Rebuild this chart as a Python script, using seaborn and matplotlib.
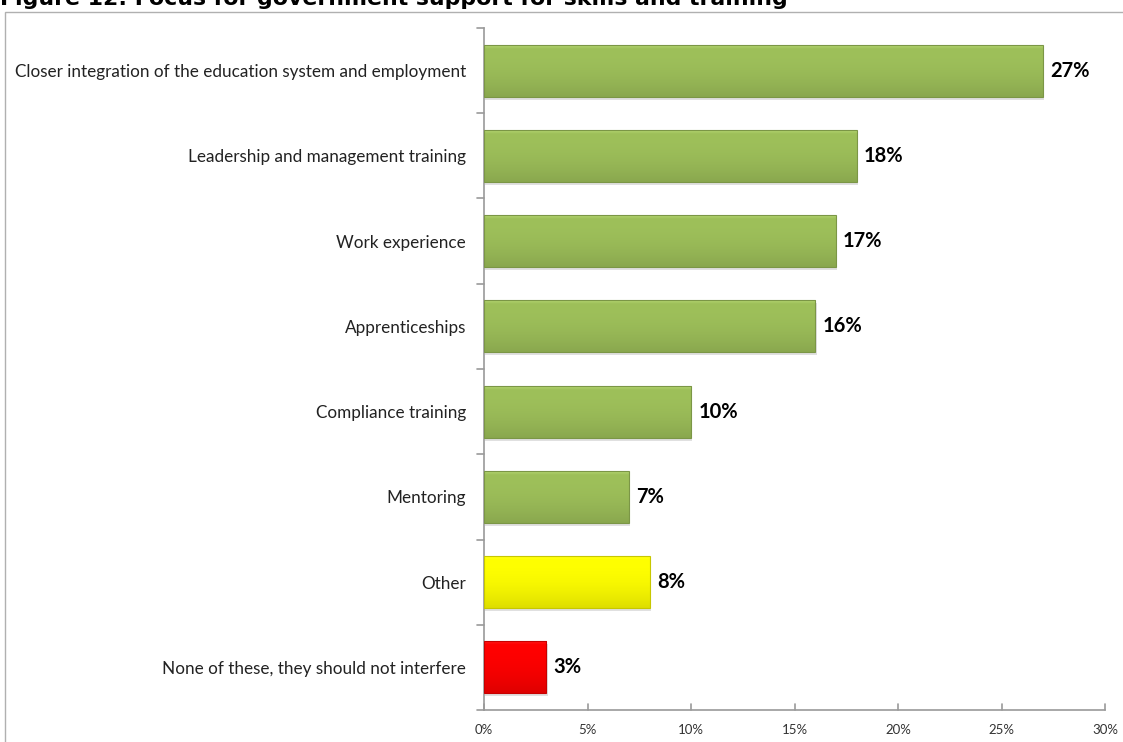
import numpy as np
import pandas as pd
import matplotlib
matplotlib.use("Agg")
import matplotlib.pyplot as plt
import matplotlib.colors as mcolors
import seaborn as sns

categories = [
    "Closer integration of the education system and employment",
    "Leadership and management training",
    "Work experience",
    "Apprenticeships",
    "Compliance training",
    "Mentoring",
    "Other",
    "None of these, they should not interfere",
]
values = [27, 18, 17, 16, 10, 7, 8, 3]
groups = ["main", "main", "main", "main", "main", "main", "other", "none"]
palette = {"main": "#9EC05A", "other": "#FFFF00", "none": "#FF0000"}
tick_values = [0, 5, 10, 15, 20, 25, 30]
title = "Figure 12: Focus for government support for skills and training"

df = pd.DataFrame({"category": categories, "value": values, "group": groups})

sns.set_theme(style="white")
plt.rcParams["font.family"] = ["Lato", "DejaVu Sans"]

fig = plt.figure(figsize=(11.23, 7.42), dpi=100)
ax = fig.add_axes([0.431, 0.0431, 0.553, 0.9192])

sns.barplot(data=df, y="category", x="value", hue="group", palette=palette,
            order=categories, dodge=False, width=0.61, legend=False,
            saturation=1, ax=ax)

# soft bevel shading on each bar
for patch in list(ax.patches):
    base = np.array(mcolors.to_rgb(patch.get_facecolor()))
    x0, y0 = patch.get_x(), patch.get_y()
    w, h = patch.get_width(), patch.get_height()
    if w <= 0:
        continue
    t = np.linspace(0, 1, 80)[:, None]
    light = np.clip(base + 0.12, 0, 1)
    dark = base * 0.87
    grad = np.where(t < 0.08, light + (base - light) * (t / 0.08),
                    base + (dark - base) * np.clip((t - 0.08) / 0.92, 0, 1) ** 2)
    img = np.repeat(grad[:, None, :], 2, axis=1)
    # drop shadow
    ax.add_patch(plt.Rectangle((x0 + 0.07, y0 + 0.035), w, h, color="#c8c8c8",
                               alpha=0.55, zorder=1.5, lw=0))
    im = ax.imshow(img, extent=(x0, x0 + w, y0 + h, y0), aspect="auto",
                   zorder=2.5, interpolation="bilinear")
    im.set_clip_path(patch)
    patch.set_linewidth(0)
    patch.set_zorder(2)
    edge = plt.Rectangle((x0, y0), w, h, fill=False, ec=tuple(base * 0.78),
                         lw=0.8, zorder=3)
    ax.add_patch(edge)

for i, v in enumerate(values):
    ax.text(v + 0.35, i, f"{v}%", va="center", ha="left", fontsize=14.5,
            fontweight="bold", color="#000000")

ax.set_xlim(0, 30)
ax.set_ylim(len(categories) - 0.5, -0.5)
ax.set_xticks(tick_values)
ax.set_xticklabels([f"{t}%" for t in tick_values], fontsize=9.5, color="#333333")
ax.set_yticks(range(len(categories)))
ax.set_yticklabels(categories, fontsize=12.3, color="#222222")
ax.set_xlabel("")
ax.set_ylabel("")

for side in ["top", "right"]:
    ax.spines[side].set_visible(False)
for side in ["left", "bottom"]:
    ax.spines[side].set_color("#9a9a9a")
    ax.spines[side].set_linewidth(1.2)

ax.tick_params(axis="y", length=0, pad=13)
ax.tick_params(axis="x", length=0, pad=10)
# category boundary ticks on the category axis
for b in np.arange(-0.5, len(categories), 1.0):
    ax.plot([-0.35, 0], [b, b], color="#9a9a9a", lw=1.2, clip_on=False, zorder=4)
for t in tick_values:
    ax.plot([t, t], [len(categories) - 0.5, len(categories) - 0.5 - 0.07],
            color="#9a9a9a", lw=1.2, clip_on=False, zorder=4)

# chart frame
frame = plt.Rectangle((5 / 1123, -0.01), 1.2, 1 - 12 / 742 + 0.01,
                      transform=fig.transFigure, fill=False, ec="#b0b0b0",
                      lw=1.0)
fig.patches.append(frame)

fig.text(0.0, 1 + 0.002, title, fontsize=15.8, fontweight="bold",
         family=["DejaVu Sans"], ha="left", va="center", color="#000000")

fig.savefig("out.png", dpi=100)
